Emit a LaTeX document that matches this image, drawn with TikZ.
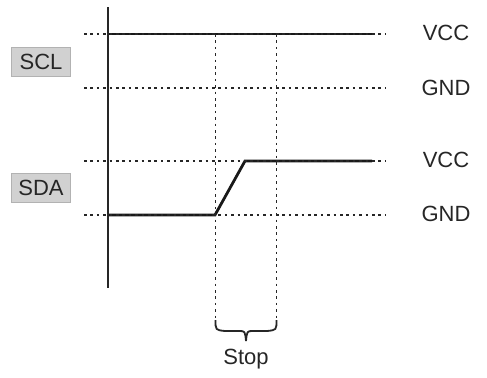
\documentclass[tikz,border=0pt]{standalone}
\usepackage{fontspec}
\setmainfont{Liberation Sans}
\begin{document}
\begin{tikzpicture}[x=0.5pt,y=-0.5pt,
  refline/.style={line width=0.85pt,dash pattern=on 1.3pt off 1.9pt,draw=black!85},
  sigline/.style={line width=1.4pt,draw=black!90},
  axisline/.style={line width=1.05pt,draw=black!85},
  tag/.style={draw=black!30,fill=black!18,line width=0.6pt,minimum width=29.5pt,minimum height=14.5pt,inner sep=0pt,font=\fontsize{11}{13}\selectfont,text=black!85},
  lvl/.style={font=\fontsize{11}{13}\selectfont,text=black!85,inner sep=0pt},
  bracel/.style={line width=0.9pt,draw=black!85}]
\useasboundingbox (0,0) rectangle (487,377);
% level reference points
\coordinate (a1l) at (84,34);  \coordinate (a1r) at (385,34);
\coordinate (a0l) at (84,88);  \coordinate (a0r) at (385,88);
\coordinate (b1l) at (84,161); \coordinate (b1r) at (385,161);
\coordinate (b0l) at (84,215); \coordinate (b0r) at (385,215);
\coordinate (axt) at (108,7);  \coordinate (axb) at (108,288);
\coordinate (sclS) at (108,34); \coordinate (sclE) at (372,34);
\coordinate (sdaS) at (108,215); \coordinate (sdaR) at (215,215);
\coordinate (sdaH) at (245,161); \coordinate (sdaE) at (372,161);
\coordinate (v1t) at (215.5,34); \coordinate (v1b) at (215.5,320);
\coordinate (v2t) at (276.5,34); \coordinate (v2b) at (276.5,320);
% signals
\draw[sigline] (sclS) -- (sclE);
\draw[sigline] (sdaS) -- (sdaR) -- (sdaH) -- (sdaE);
% dotted reference lines
\draw[refline] (a1l) -- (a1r);
\draw[refline] (a0l) -- (a0r);
\draw[refline] (b1l) -- (b1r);
\draw[refline] (b0l) -- (b0r);
\draw[refline] (v1t) -- (v1b);
\draw[refline] (v2t) -- (v2b);
% axis
\draw[axisline] (axt) -- (axb);
% brace
\draw[bracel] (v1b) .. controls (215.5,330) .. (225,331) -- (239,331) .. controls (245,331) .. (246,341);
\draw[bracel] (v2b) .. controls (276.5,330) .. (267,331) -- (253,331) .. controls (247,331) .. (246,341);
% labels
\node[tag] (scl) at (41,62) {SCL};
\node[tag] (sda) at (41,188) {SDA};
\node[lvl] (vcc1) at (446,33) {VCC};
\node[lvl] (gnd1) at (446,88) {GND};
\node[lvl] (vcc2) at (446,160) {VCC};
\node[lvl] (gnd2) at (446,214) {GND};
\node[lvl] (stop) at (246,359) {Stop};
\end{tikzpicture}
\end{document}
